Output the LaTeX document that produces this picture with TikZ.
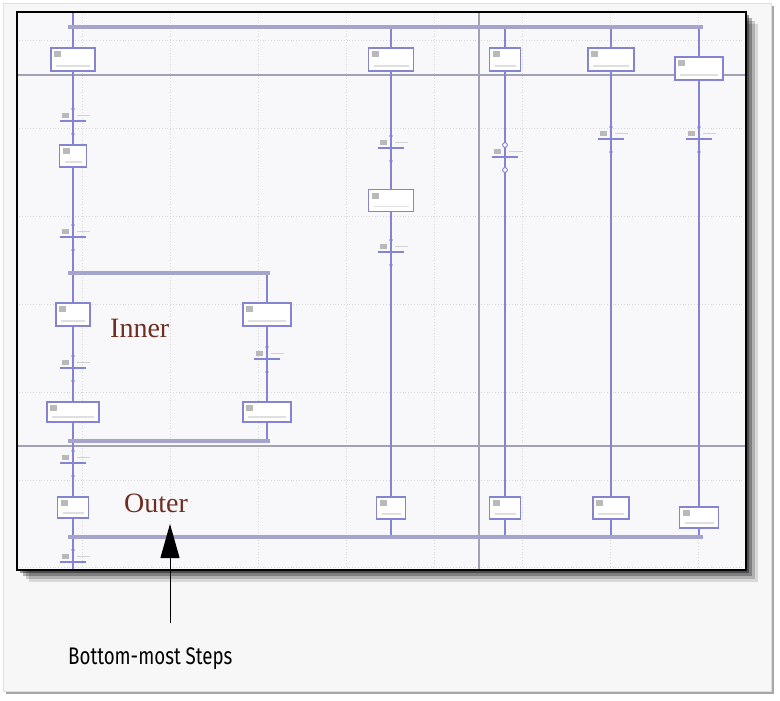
\documentclass[tikz,border=0pt]{standalone}
\usepackage{fontspec}
\usepackage{xcolor}
\usepackage{tikz}
\usetikzlibrary{arrows.meta, positioning, calc}

\newfontfamily\calloutfont[FakeStretch=0.78]{Fira Sans}
\newfontfamily\notefont{Liberation Serif}
\definecolor{sfcblue}{HTML}{8484D2}
\definecolor{barblue}{HTML}{A4A4CC}
\definecolor{pageline}{HTML}{A2A2B2}
\definecolor{notered}{HTML}{6E2E22}
\definecolor{panelbg}{HTML}{F7F7F7}
\definecolor{screenbg}{HTML}{F8F8FA}

\begin{document}
\begin{tikzpicture}[x=1pt, y=-1pt,
        sfc/.style={sfcblue, line width=1.7pt},
        bar/.style={barblue, line width=4.5pt},
        pagebreak/.style={pageline, line width=1.4pt},
        gridline/.style={gray!30, dotted, line width=0.8pt},
        stepbox/.style={draw=sfcblue, line width=1.8pt, fill=white, inner sep=0pt,
                path picture={
                        \fill[gray!55] ([shift={(3pt,-3pt)}]path picture bounding box.north west) rectangle +(7pt,-6pt);
                        \draw[gray!25, line width=1.6pt] ([shift={(5pt,5pt)}]path picture bounding box.south west)
                                -- ([shift={(-5pt,5pt)}]path picture bounding box.south east);
                }},
        trans/.style={fill=sfcblue, inner sep=0pt, minimum width=26pt, minimum height=2.4pt}]

        \useasboundingbox (0,0) rectangle (780,701);

        % Panel and screenshot frame
        \fill[white] (0,0) rectangle (780,701);
        \fill[gray!70] (6,6) rectangle (774,694);
        \filldraw[fill=panelbg, draw=gray!25] (3,3) rectangle (771,691);
        \foreach \d/\o in {12/0.12, 9/0.18, 6/0.28, 3/0.4} {
                \fill[black, opacity=\o] (17+\d,12+\d) rectangle (746+\d,570+\d);
            }
        \fill[screenbg] (17,12) rectangle (746,570);

        \begin{scope}
                \clip (17,12) rectangle (746,570);

                % Grid and page breaks
                \foreach \x in {82,170,258,346,434,522,610,698}
                \draw[gridline] (\x,14) -- (\x,568);
                \foreach \y in {40,128,216,304,392,480,567}
                \draw[gridline] (19,\y) -- (744,\y);
                \draw[pagebreak] (18,75) -- (745,75);
                \draw[pagebreak] (18,446) -- (745,446);
                \draw[pagebreak] (479,13) -- (479,569);

                % Steps
                \foreach \n/\x/\y/\w/\h in {s1/73/59.5/44/23, s2/391/59.5/45/23, s3/505/59.5/31/23,
                                s4/611/59.5/46/23, s5/699/68.5/48/23, s6/73/156/27/22, s7/73/314.5/34/23,
                                s8/267/314.5/48/23, s9/73/412/52/20, s10/267/412/48/20, s11/73/507.5/31/21,
                                s12/391/200.5/45/22, s13/391/508/29/22, s14/505/508/31/22,
                                s15/611/508/36/22, s16/699/517.5/39/21} {
                        \node[stepbox, minimum width=\w, minimum height=\h] (\n) at (\x,\y) {};
                    }

                % Transitions
                \foreach \n/\x/\y in {t1/73/121, t2/73/237, t3/73/368, t4/267/359, t5/73/463,
                                t6/73/562, t7/391/148, t8/391/252, t9/505/157, t10/611/139, t11/699/139} {
                        \node[trans] (\n) at (\x,\y) {};
                        \fill[gray!55] ([shift={(-11pt,2pt)}]\n.north) rectangle +(7pt,5pt);
                        \draw[gray!35, line width=1.4pt] ([shift={(4pt,4pt)}]\n.north) -- +(13pt,0pt);
                        \fill[sfcblue] ([yshift=12pt]\n.center) circle (1.9pt);
                        \fill[sfcblue] ([yshift=-13pt]\n.center) circle (1.9pt);
                    }

                \coordinate (topL) at (68,27);
                \coordinate (topR) at (703,27);
                \coordinate (inTopL) at (68,273);
                \coordinate (inTopR) at (270,273);
                \coordinate (inBotL) at (68,441);
                \coordinate (inBotR) at (270,441);
                \coordinate (botL) at (68,537);
                \coordinate (botR) at (703,537);
                \coordinate (c1top) at (73,13);
                \coordinate (c1bot) at (73,570);

                % Links
                \draw[sfc] (c1top) -- (s1) -- (t1) -- (s6) -- (t2) -- (s7) -- (t3) -- (s9) -- (t5) -- (s11) -- (t6) -- (c1bot);
                \draw[sfc] (s8 |- inTopL) -- (s8) -- (t4) -- (s10) -- (s10 |- inBotL);
                \foreach \n in {s2,s3,s4,s5}
                \draw[sfc] (\n |- topL) -- (\n);
                \draw[sfc] (s2) -- (t7) -- (s12) -- (t8) -- (s13);
                \draw[sfc] (s3) -- (t9) -- (s14);
                \draw[sfc] (s4) -- (t10) -- (s15);
                \draw[sfc] (s5) -- (t11) -- (s16);
                \foreach \n in {s13,s14,s15,s16}
                \draw[sfc] (\n) -- (\n |- botL);
                \filldraw[fill=white, draw=sfcblue, line width=1pt] ([yshift=12pt]t9.center) circle (2.4pt)
                        ([yshift=-13pt]t9.center) circle (2.4pt);

                % Divergence bars
                \draw[bar] (topL) -- (topR);
                \draw[bar] (inTopL) -- (inTopR);
                \draw[bar] (inBotL) -- (inBotR);
                \draw[bar] (botL) -- (botR);

                \node[anchor=base west, inner sep=0pt, text=notered, font=\notefont\fontsize{28}{32}\selectfont] (inner) at (110,337) {Inner};
                \node[anchor=base west, inner sep=0pt, text=notered, font=\notefont\fontsize{28}{32}\selectfont] (outer) at (124,512) {Outer};
        \end{scope}
        \draw[black, line width=1.6pt] (17,12) rectangle (746,570);

        % Callout
        \node[anchor=base west, inner sep=0pt, font=\calloutfont\fontsize{24}{28}\selectfont] (bms) at (68,664) {Bottom-most Steps};
        \coordinate (tail) at (170,623);
        \coordinate (tip) at (170,524);
        \draw[-{Triangle[length=34pt,width=19pt]}, line width=1pt] (tail) -- (tip);

    \end{tikzpicture}
\end{document}
